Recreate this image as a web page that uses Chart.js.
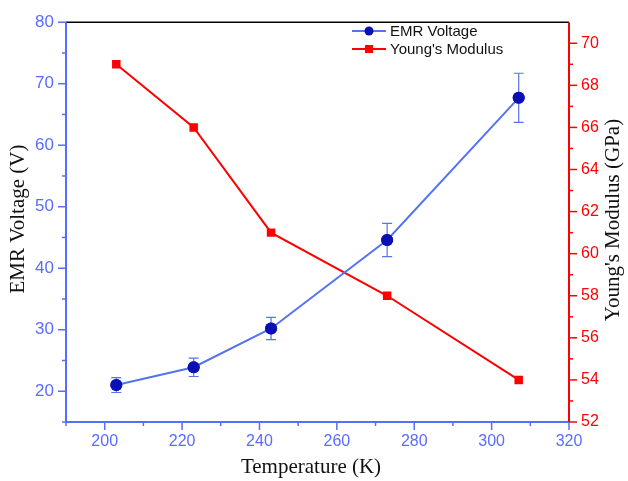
<!DOCTYPE html>
<html>
<head>
<meta charset="utf-8">
<script src="https://cdn.jsdelivr.net/npm/chart.js@4.4.1/dist/chart.umd.min.js"></script>
<style>
html, body { margin: 0; padding: 0; background: #fff; }
</style>
</head>
<body>
<canvas id="chart" width="628" height="481"></canvas>
<script>
// data
const temps = [203, 223, 243, 273, 307];
const emrVoltage = [21.0, 23.9, 30.2, 44.6, 67.7];
const emrError = [1.2, 1.5, 1.8, 2.7, 4.0];
const youngsModulus = [69, 66, 61, 58, 54];

// tick values (major ones get a label)
const xTicks = [190, 200, 210, 220, 230, 240, 250, 260, 270, 280, 290, 300, 310, 320];
const xLabels = [200, 220, 240, 260, 280, 300, 320];
const leftTicks = [15, 20, 25, 30, 35, 40, 45, 50, 55, 60, 65, 70, 75, 80];
const leftLabels = [20, 30, 40, 50, 60, 70, 80];
const rightTicks = [52, 53, 54, 55, 56, 57, 58, 59, 60, 61, 62, 63, 64, 65, 66, 67, 68, 69, 70];
const rightLabels = [52, 54, 56, 58, 60, 62, 64, 66, 68, 70];

const BLUE_AXIS = '#5a6cff';
const BLUE_LINE = '#5473f2';
const BLUE_DOT = '#0a10b4';
const RED = '#ff0000';

const tickFont = { family: 'Liberation Sans, Arial', size: 16 };

function setTicks(list) {
    return scale => { scale.ticks = list.map(v => ({ value: v })); };
}

// error bars, markers redrawn on top
const errorBars = {
    id: 'errorBars',
    afterDatasetsDraw(chart) {
        const { ctx, scales } = chart;
        ctx.save();
        ctx.strokeStyle = BLUE_LINE;
        ctx.lineWidth = 1.2;
        temps.forEach((t, i) => {
            const x = scales.x.getPixelForValue(t);
            const y1 = scales.y.getPixelForValue(emrVoltage[i] + emrError[i]);
            const y2 = scales.y.getPixelForValue(emrVoltage[i] - emrError[i]);
            ctx.beginPath();
            ctx.moveTo(x, y1); ctx.lineTo(x, y2);
            ctx.moveTo(x - 5, y1); ctx.lineTo(x + 5, y1);
            ctx.moveTo(x - 5, y2); ctx.lineTo(x + 5, y2);
            ctx.stroke();
        });
        const meta = chart.getDatasetMeta(0);
        meta.data.forEach(p => {
            ctx.fillStyle = BLUE_DOT;
            ctx.beginPath();
            ctx.arc(p.x, p.y, 6, 0, Math.PI * 2);
            ctx.fill();
        });
        ctx.restore();
    }
};

// axis lines, tick marks, titles and legend
const frame = {
    id: 'frame',
    afterDraw(chart) {
        const { ctx, chartArea: a, scales } = chart;
        ctx.save();
        const seg = (x1, y1, x2, y2) => { ctx.beginPath(); ctx.moveTo(x1, y1); ctx.lineTo(x2, y2); ctx.stroke(); };

        // top frame line
        ctx.strokeStyle = '#000'; ctx.lineWidth = 1.5;
        seg(a.left, a.top, a.right, a.top);

        // bottom axis
        ctx.strokeStyle = BLUE_AXIS; ctx.lineWidth = 2;
        seg(a.left - 1, a.bottom, a.right, a.bottom);
        ctx.lineWidth = 1.5;
        xTicks.forEach(v => {
            const x = scales.x.getPixelForValue(v);
            const len = xLabels.includes(v) ? 8 : 4;
            seg(x, a.bottom, x, a.bottom + len);
        });

        // left axis
        ctx.lineWidth = 2;
        seg(a.left, a.top, a.left, a.bottom);
        ctx.lineWidth = 1.5;
        leftTicks.forEach(v => {
            const y = scales.y.getPixelForValue(v);
            const len = leftLabels.includes(v) ? 8 : 4;
            seg(a.left, y, a.left - len, y);
        });

        // right axis
        ctx.strokeStyle = RED; ctx.lineWidth = 2;
        seg(a.right, a.top, a.right, a.bottom);
        ctx.lineWidth = 1.5;
        rightTicks.forEach(v => {
            const y = scales.y2.getPixelForValue(v);
            const len = rightLabels.includes(v) ? 8 : 4;
            seg(a.right, y, a.right + len, y);
        });

        // axis titles
        ctx.fillStyle = '#111';
        ctx.font = '21px "Liberation Serif", "Times New Roman", serif';
        ctx.textAlign = 'center'; ctx.textBaseline = 'middle';
        ctx.fillText('Temperature (K)', 311, 467);
        ctx.save();
        ctx.translate(18, 219); ctx.rotate(-Math.PI / 2);
        ctx.fillText('EMR Voltage (V)', 0, 0);
        ctx.restore();
        ctx.save();
        ctx.translate(613, 220); ctx.rotate(-Math.PI / 2);
        ctx.fillText("Young's Modulus (GPa)", 0, 0);
        ctx.restore();

        // legend
        const items = [
            { label: 'EMR Voltage', color: BLUE_LINE, dot: BLUE_DOT, shape: 'circle', y: 31 },
            { label: "Young's Modulus", color: RED, dot: RED, shape: 'rect', y: 49 }
        ];
        ctx.font = '15px "Liberation Sans", Arial, sans-serif';
        ctx.textAlign = 'left';
        items.forEach(it => {
            ctx.strokeStyle = it.color; ctx.lineWidth = 2;
            seg(352, it.y, 386, it.y);
            ctx.fillStyle = it.dot;
            if (it.shape === 'circle') {
                ctx.beginPath(); ctx.arc(369, it.y, 4.5, 0, Math.PI * 2); ctx.fill();
            } else {
                ctx.fillRect(365, it.y - 4, 8, 8);
            }
            ctx.fillStyle = '#111';
            ctx.fillText(it.label, 390, it.y + 1);
        });
        ctx.restore();
    }
};

new Chart(document.getElementById('chart'), {
    type: 'line',
    data: {
        datasets: [
            {
                label: 'EMR Voltage',
                data: temps.map((t, i) => ({ x: t, y: emrVoltage[i] })),
                yAxisID: 'y',
                borderColor: BLUE_LINE,
                backgroundColor: BLUE_DOT,
                borderWidth: 2,
                pointRadius: 6,
                pointBorderWidth: 0,
                pointStyle: 'circle',
                tension: 0,
                order: 1
            },
            {
                label: "Young's Modulus",
                data: temps.map((t, i) => ({ x: t, y: youngsModulus[i] })),
                yAxisID: 'y2',
                borderColor: RED,
                backgroundColor: RED,
                borderWidth: 2,
                pointRadius: 6,
                pointBorderWidth: 0,
                pointStyle: 'rect',
                tension: 0,
                order: 2
            }
        ]
    },
    options: {
        responsive: false,
        animation: false,
        layout: { padding: { top: 16, left: 0, right: 0, bottom: 0 } },
        plugins: { legend: { display: false }, tooltip: { enabled: false } },
        scales: {
            x: {
                type: 'linear', min: 190, max: 320,
                afterBuildTicks: setTicks(xTicks),
                afterFit: s => { s.height = 59; },
                grid: { display: false, drawTicks: false },
                border: { display: false },
                ticks: {
                    padding: 10, color: BLUE_AXIS, font: tickFont, maxRotation: 0, autoSkip: false,
                    callback: v => xLabels.includes(v) ? String(v) : ''
                }
            },
            y: {
                type: 'linear', position: 'left', min: 15, max: 80,
                afterBuildTicks: setTicks(leftTicks),
                afterFit: s => { s.width = 66; },
                grid: { display: false, drawTicks: false },
                border: { display: false },
                ticks: {
                    padding: 12, color: BLUE_AXIS, font: { family: 'Liberation Sans, Arial', size: 17 }, autoSkip: false,
                    callback: v => leftLabels.includes(v) ? String(v) : ''
                }
            },
            y2: {
                type: 'linear', position: 'right', min: 52, max: 71,
                afterBuildTicks: setTicks(rightTicks),
                afterFit: s => { s.width = 59; },
                grid: { display: false, drawTicks: false },
                border: { display: false },
                ticks: {
                    padding: 12, color: RED, font: tickFont, autoSkip: false,
                    callback: v => rightLabels.includes(v) ? String(v) : ''
                }
            }
        }
    },
    plugins: [errorBars, frame]
});
</script>
</body>
</html>
